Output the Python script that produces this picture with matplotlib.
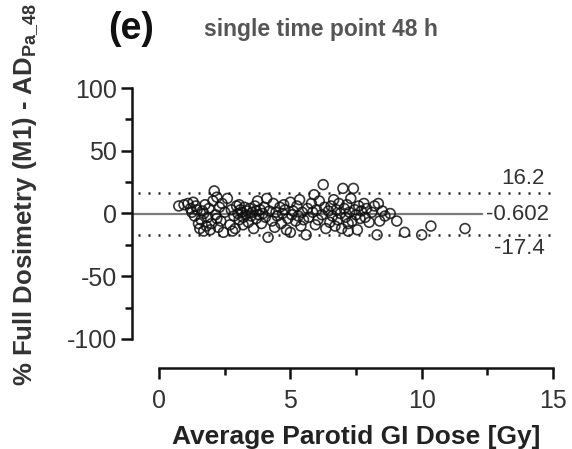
# -*- coding: utf-8 -*-
import numpy as np
import matplotlib.pyplot as plt
from matplotlib.ticker import MultipleLocator

plt.rcParams['font.family'] = ['Liberation Sans', 'DejaVu Sans']
plt.rcParams['axes.unicode_minus'] = False

# %% Data ----------------------------------------------------------------------
dose = [0.75, 0.95, 1.1, 1.2, 1.3, 1.35, 1.45, 1.5, 1.4, 1.25,
        1.55, 1.6, 1.65, 1.7, 1.75, 1.8, 1.85, 1.9, 1.95, 2.0, 2.05,
        2.1, 2.15, 2.2, 2.25, 2.3, 2.35, 2.4, 2.45, 2.5, 2.2, 1.7,
        2.6, 2.7, 2.75, 2.85, 2.9, 2.95, 3.0, 3.05, 3.1, 3.15, 3.2,
        3.25, 3.3, 3.35, 3.4, 3.45, 3.5, 3.05, 3.2, 2.8,
        3.55, 3.6, 3.65, 3.7, 3.75, 3.8, 3.85, 3.9, 3.95, 4.0, 4.05,
        4.1, 4.15, 4.2, 4.3, 4.35, 4.4, 4.45, 4.5, 3.7,
        4.6, 4.65, 4.7, 4.8, 4.85, 4.9, 5.0, 5.05, 5.1, 5.2, 5.25,
        5.3, 5.35, 5.4, 5.45, 5.5, 5.0, 4.75,
        5.6, 5.65, 5.7, 5.8, 5.85, 5.9, 5.95, 6.0, 6.05, 6.1, 6.2,
        6.25, 6.3, 6.35, 6.45, 6.5,
        6.55, 6.6, 6.65, 6.7, 6.75, 6.8, 6.85, 6.9, 6.95, 7.0, 7.05,
        7.1, 7.15, 7.2, 7.25, 7.3, 7.35, 7.4, 7.45, 7.5, 7.55, 7.6,
        7.65, 7.7, 7.2,
        7.8, 7.85, 7.9, 8.0, 8.1, 8.2, 8.3, 8.35, 8.4, 8.5, 8.6, 8.8,
        9.05, 9.35, 10.0, 10.35, 11.65]
diff = [6, 7, 8, 4, 9, -2, 3, -8, 6, 1,
        -12, -5, 2, -14, 7, -10, -3, 4, -13, -8, 10,
        18, -1, 13, -11, 5, -6, 8, -15, 1, -4, 0,
        12, -9, 3, -2, -12, 6, 0, -5, 3, 1, -3,
        5, -1, 2, -7, 4, -2, 7, -9, -14,
        1, -12, 6, -4, 10, -1, 3, -8, 0, 5, -3,
        12, -19, 2, -6, 8, -11, 1, -2, 2,
        5, -8, 0, 3, -13, -4, 9, -1, 2, -6, 6,
        -2, 11, -10, 1, -5, -15, 7,
        -17, 4, -3, 8, 1, 15, -9, 3, -5, 10, -1,
        23, 5, -12, 2, -7,
        6, -2, 11, -10, 3, -5, 8, 0, -12, 20, 4,
        -3, 7, -8, 1, 12, -6, 20, 3, -1, -13, 6,
        -4, 2, -14,
        8, -3, 4, -7, 1, 6, -17, 8, -6, 2, -2, 0,
        -6, -15, -17, -10, -12]

bias = -0.602
loa_upper = 16.2
loa_lower = -17.4

# %% Figure --------------------------------------------------------------------
fig = plt.figure(figsize=(5.72, 4.49), dpi=100)
ax = fig.add_axes([0.2308, 0.245, 0.7406, 0.559])

ax.scatter(dose, diff, s=50, facecolors='none', edgecolors='#111111',
           linewidths=1.2, alpha=0.85, zorder=3)

ax.plot([-1.03, 12.3], [bias, bias], color='#7a7a7a', lw=1.6, zorder=2)
for v in (loa_upper, loa_lower):
    ax.plot([-0.8, 15.1], [v, v], color='#222222', lw=1.8,
            linestyle=(0, (0.8, 3.2)), zorder=2)

ax.text(14.69, 27.9, '16.2', ha='right', va='center',
        fontsize=16, color='#333333')
ax.text(12.45, bias, '-0.602', ha='left', va='center',
        fontsize=16, color='#333333')
ax.text(14.69, -27.5, '-17.4', ha='right', va='center',
        fontsize=16, color='#333333')

ax.set_xlim(-1.03, 15.1)
ax.set_ylim(-100, 100)

for s in ('top', 'right'):
    ax.spines[s].set_visible(False)
ax.spines['left'].set_bounds(-100, 100)
ax.spines['bottom'].set_bounds(0, 15)
ax.spines['bottom'].set_position(('outward', 21))
for s in ('left', 'bottom'):
    ax.spines[s].set_linewidth(1.8)
    ax.spines[s].set_color('#111111')

ax.xaxis.set_major_locator(MultipleLocator(5))
ax.xaxis.set_minor_locator(MultipleLocator(2.5))
ax.yaxis.set_major_locator(MultipleLocator(50))
ax.yaxis.set_minor_locator(MultipleLocator(25))
ax.tick_params(which='major', length=8, width=1.8, color='#111111',
               labelsize=18, labelcolor='#333333', pad=3)
ax.tick_params(axis='x', which='major', pad=7)
ax.tick_params(which='minor', length=5, width=1.8, color='#111111')
ax.set_xticks([0, 5, 10, 15])

ax.set_xlabel('Average Parotid GI Dose [Gy]', fontsize=19, fontweight='bold',
              color='#222222', va='top')
ax.xaxis.set_label_coords(0.529, -0.343)
ax.set_ylabel(r'% Full Dosimetry (M1) - AD$_{\mathregular{Pa\_48}}$',
              fontsize=18.5, fontweight='bold', color='#333333')
ax.yaxis.set_label_coords(-0.215, 0.574)

fig.text(0.189, 0.935, '(e)', fontsize=27, fontweight='bold',
         ha='left', va='center', color='#111111')
fig.text(0.561, 0.935, 'single time point 48 h', fontsize=16.5,
         fontweight='bold', ha='center', va='center', color='#555555')

fig.savefig('out.png', dpi=100)
